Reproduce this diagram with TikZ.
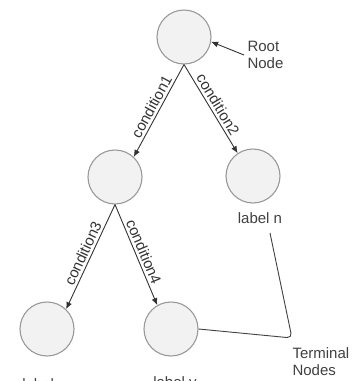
\documentclass[tikz,border=0pt]{standalone}
\usepackage{fontspec}
\setmainfont{Liberation Sans}
\usetikzlibrary{arrows.meta}
\begin{document}
\begin{tikzpicture}[x=1pt,y=-1pt,
  treenode/.style={circle,draw=black!40,fill=black!5,line width=1.1pt,minimum size=54pt,inner sep=0pt},
  branch/.style={draw=black!80,line width=0.9pt,-{Latex[length=7pt,width=6pt]}},
  cond/.style={font=\fontsize{15}{18}\selectfont,text=black!80,sloped,above,inner sep=2.5pt},
  caption/.style={font=\fontsize{15}{17}\selectfont,text=black!75,align=left},
  leaflabel/.style={font=\fontsize{15}{18}\selectfont,text=black!75}]
  \useasboundingbox (0,0) rectangle (360,381);
  \clip (0,0) rectangle (360,381);

  % tree nodes
  \node[treenode] (root) at (184,37) {};
  \node[treenode] (ml) at (115,177) {};
  \node[treenode] (mr) at (253,176) {};
  \node[treenode] (bl) at (47,329) {};
  \node[treenode] (bm) at (171,329) {};

  % leaf labels
  \node[leaflabel] (lbln) at (260,218) {label n};
  \node[leaflabel] (lblx) at (44,384) {label x};
  \node[leaflabel] (lbly) at (175,384) {label y};

  % branches with their conditions
  \draw[branch] (root.south) -- node[cond] {condition1} (ml.47);
  \draw[branch] (root.south) -- node[cond] {condition2} (mr.124);
  \draw[branch] (ml.south) -- node[cond] {condition3} (bl.46);
  \draw[branch] (ml.south) -- node[cond] {condition4} (bm.120);

  % root annotation
  \node[caption,anchor=west] (rootlbl) at (244,55) {Root\\Node};
  \draw[branch] (rootlbl.west) -- (root.-10);

  % terminal annotation
  \node[caption,anchor=west] (termlbl) at (289,362) {Terminal\\Nodes};
  \coordinate (tcorner) at (292,338);
  \coordinate (ntail) at (270,233);
  \draw[draw=black!75,line width=0.9pt,rounded corners=5pt] (bm.east) -- (tcorner) -- (ntail);
\end{tikzpicture}
\end{document}
